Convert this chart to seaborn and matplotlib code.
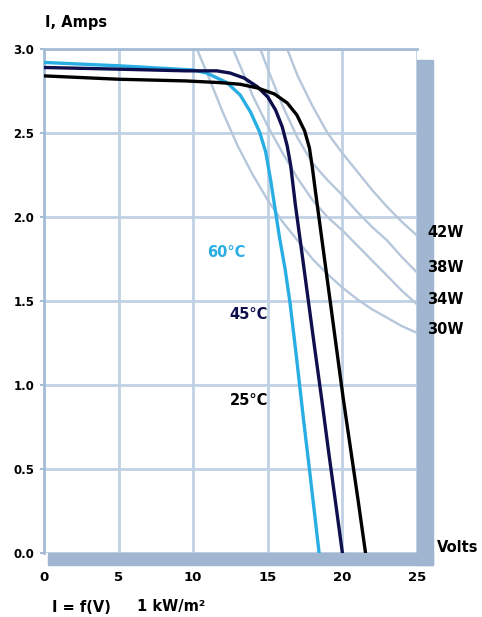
import matplotlib
matplotlib.use("Agg")
import matplotlib.pyplot as plt
import matplotlib.transforms as mtransforms
from matplotlib.patches import Rectangle
import seaborn as sns

# I-V curves at 1 kW/m2
volts_60c = [0, 5, 10, 10.9, 12.26, 13.15, 13.84, 14.45, 14.86, 15.19, 15.45, 15.78,
             16.17, 16.49, 16.92, 17.4, 17.82, 18.44]
amps_60c = [2.92, 2.90, 2.875, 2.857, 2.80, 2.726, 2.625, 2.506, 2.387, 2.22, 2.07, 1.881,
            1.685, 1.488, 1.167, 0.79, 0.476, 0.0]

volts_45c = [0, 5, 9.5, 11.58, 12.47, 13.42, 14.32, 15.0, 15.52, 15.97, 16.3, 16.53,
             16.69, 16.85, 17.26, 17.71, 18.16, 18.62, 19.06, 19.52, 20.0]
amps_45c = [2.89, 2.88, 2.87, 2.87, 2.857, 2.827, 2.774, 2.714, 2.637, 2.536, 2.423, 2.31,
            2.19, 2.071, 1.804, 1.506, 1.208, 0.911, 0.613, 0.315, 0.0]

volts_25c = [0, 5, 9.5, 11.78, 13.15, 14.32, 15.45, 16.3, 16.95, 17.47, 17.79, 17.99,
             18.18, 18.72, 19.17, 19.62, 20.07, 20.56, 21.05, 21.55]
amps_25c = [2.84, 2.82, 2.81, 2.80, 2.79, 2.768, 2.732, 2.679, 2.607, 2.512, 2.411, 2.292,
            2.161, 1.804, 1.506, 1.208, 0.911, 0.613, 0.315, 0.0]

temp_labels = ["60°C", "45°C", "25°C"]

# constant power curves
volts_30w = [10.25, 11, 12, 13, 14, 15, 16, 17, 18, 19, 20, 21, 22, 23, 24, 25]
amps_30w = [3.0, 2.84, 2.62, 2.42, 2.25, 2.10, 1.97, 1.86, 1.75, 1.66, 1.58, 1.51, 1.45, 1.40, 1.35, 1.31]
volts_34w = [12.67, 13, 14, 15, 16, 17, 18, 19, 20, 21, 22, 23, 24, 25]
amps_34w = [3.0, 2.93, 2.72, 2.54, 2.38, 2.23, 2.10, 2.00, 1.92, 1.83, 1.74, 1.65, 1.56, 1.48]
volts_38w = [14.5, 15, 16, 17, 18, 19, 20, 21, 22, 23, 24, 25]
amps_38w = [3.0, 2.88, 2.66, 2.47, 2.32, 2.22, 2.13, 2.03, 1.94, 1.86, 1.76, 1.67]
volts_42w = [16.3, 17, 18, 19, 20, 21, 22, 23, 24, 25]
amps_42w = [3.0, 2.84, 2.66, 2.50, 2.38, 2.27, 2.16, 2.06, 1.97, 1.89]
power_labels = ["42W", "38W", "34W", "30W"]
power_label_amps = [1.905, 1.70, 1.51, 1.33]

x_ticks = [0, 5, 10, 15, 20, 25]
y_ticks = [0.0, 0.5, 1.0, 1.5, 2.0, 2.5, 3.0]

sns.set_style("white")
plt.rcParams['font.family'] = ['DejaVu Sans']
plt.rcParams['text.color'] = 'black'
plt.rcParams['xtick.color'] = 'black'
plt.rcParams['ytick.color'] = 'black'

frame_col = "#a6bcd6"
grid_col = "#c0d1e3"
shadow_col = "#a0b6d0"
power_col = "#b6c7dc"

fig = plt.figure(figsize=(4.82, 6.17), dpi=100)
ax = fig.add_axes([44 / 482, 1 - 553 / 617, 373 / 482, 504 / 617])

ax.set_xlim(0, 25)
ax.set_ylim(0, 3.0)
ax.set_xticks(x_ticks)
ax.set_yticks(y_ticks)
ax.set_xticklabels([str(v) for v in x_ticks], fontweight="bold", fontsize=9.5)
ax.set_yticklabels(["%.1f" % v for v in y_ticks], fontweight="bold", fontsize=8.5)
ax.tick_params(axis="x", length=0, pad=13, labelcolor="black")
ax.tick_params(axis="y", length=3, width=1.5, color=frame_col, pad=4, left=True, labelcolor="black")
ax.grid(True, color=grid_col, lw=2)

for side in ["left", "top"]:
    ax.spines[side].set_color(frame_col)
    ax.spines[side].set_linewidth(2)
ax.spines["right"].set_visible(False)
ax.spines["bottom"].set_visible(False)

# shadow bars on the right and bottom
ax.add_patch(Rectangle((1.0, -0.0238), 0.043, 1.0018, transform=ax.transAxes,
                       color=shadow_col, clip_on=False, zorder=1))
ax.add_patch(Rectangle((0.0107, -0.0238), 1.0323, 0.0238, transform=ax.transAxes,
                       color=shadow_col, clip_on=False, zorder=1))

# power curves
for v, a in [(volts_30w, amps_30w), (volts_34w, amps_34w),
             (volts_38w, amps_38w), (volts_42w, amps_42w)]:
    sns.lineplot(x=v, y=a, ax=ax, color=power_col, lw=1.7, estimator=None, sort=False, zorder=2)

# I-V curves
sns.lineplot(x=volts_60c, y=amps_60c, ax=ax, color="#29aee4", lw=2.4, estimator=None, sort=False, zorder=3)
sns.lineplot(x=volts_45c, y=amps_45c, ax=ax, color="#0e0f4c", lw=2.4, estimator=None, sort=False, zorder=4)
sns.lineplot(x=volts_25c, y=amps_25c, ax=ax, color="#000000", lw=2.4, estimator=None, sort=False, zorder=5)

ax.text(10.9, 1.79, temp_labels[0], color="#29aee4", fontsize=10.5, fontweight="bold", va="center", ha="left")
ax.text(15.0, 1.42, temp_labels[1], color="#0e0f4c", fontsize=10.5, fontweight="bold", va="center", ha="right")
ax.text(15.0, 0.91, temp_labels[2], color="#000000", fontsize=10.5, fontweight="bold", va="center", ha="right")

trans = mtransforms.blended_transform_factory(ax.transAxes, ax.transData)
for lab, a in zip(power_labels, power_label_amps):
    ax.text(1.027, a, lab, transform=trans, fontsize=10.5, fontweight="bold", va="center", ha="left", zorder=6)

fig.text(45 / 482, 1 - 23 / 617, "I, Amps", fontsize=10.5, fontweight="bold", va="center", ha="left")
fig.text(437 / 482, 1 - 548 / 617, "Volts", fontsize=10.5, fontweight="bold", va="center", ha="left")
fig.text(52 / 482, 1 - 607 / 617, "I = f(V)", fontsize=10.5, fontweight="bold", va="center", ha="left")
fig.text(137 / 482, 1 - 607 / 617, "1 kW/m²", fontsize=10.5, fontweight="bold", va="center", ha="left")

fig.savefig("out.png", dpi=100)
